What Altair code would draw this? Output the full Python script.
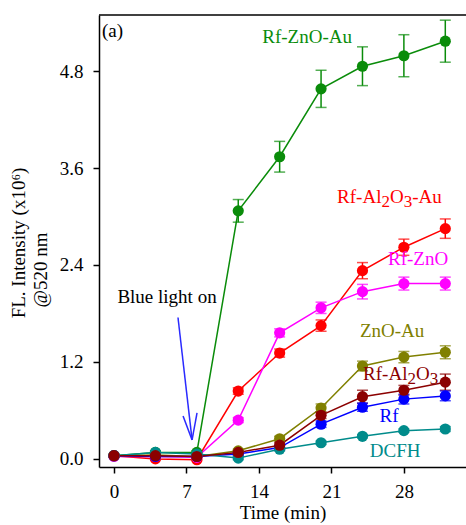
import altair as alt
import pandas as pd

FONT = "Liberation Serif"
FS = 19

time = [0, 4, 8, 12, 16, 20, 24, 28, 32]

series_names = ["Rf-ZnO-Au", "Rf-Al2O3-Au", "Rf-ZnO", "ZnO-Au", "Rf", "DCFH", "Rf-Al2O3"]
series_colors = ["#0a8c0a", "#ff0000", "#ff00ff", "#808000", "#0000ff", "#008b8b", "#8b0000"]

rf_zno_au = [0.04, 0.08, 0.08, 3.07, 3.74, 4.58, 4.86, 4.99, 5.17]
rf_zno_au_err = [0.02, 0.02, 0.02, 0.14, 0.19, 0.23, 0.24, 0.26, 0.26]
rf_al2o3_au = [0.04, 0.00, -0.01, 0.84, 1.31, 1.65, 2.33, 2.62, 2.85]
rf_al2o3_au_err = [0.01, 0.01, 0.01, 0.04, 0.05, 0.07, 0.10, 0.10, 0.12]
rf_zno = [0.03, 0.03, 0.02, 0.48, 1.56, 1.87, 2.07, 2.17, 2.17]
rf_zno_err = [0.01, 0.01, 0.01, 0.03, 0.05, 0.07, 0.09, 0.08, 0.08]
zno_au = [0.04, 0.05, 0.03, 0.10, 0.25, 0.63, 1.15, 1.26, 1.32]
zno_au_err = [0.01, 0.01, 0.01, 0.02, 0.03, 0.05, 0.06, 0.07, 0.08]
rf = [0.04, 0.03, 0.03, 0.06, 0.14, 0.43, 0.64, 0.74, 0.78]
rf_err = [0.01, 0.01, 0.01, 0.02, 0.03, 0.04, 0.05, 0.06, 0.06]
dcfh = [0.04, 0.08, 0.06, 0.01, 0.12, 0.20, 0.28, 0.35, 0.37]
dcfh_err = [0.01, 0.01, 0.01, 0.02, 0.02, 0.02, 0.02, 0.02, 0.03]
rf_al2o3 = [0.04, 0.04, 0.03, 0.08, 0.17, 0.54, 0.77, 0.85, 0.95]
rf_al2o3_err = [0.01, 0.01, 0.01, 0.02, 0.03, 0.04, 0.08, 0.06, 0.10]

series_values = [rf_zno_au, rf_al2o3_au, rf_zno, zno_au, rf, dcfh, rf_al2o3]
series_errors = [rf_zno_au_err, rf_al2o3_au_err, rf_zno_err, zno_au_err, rf_err, dcfh_err, rf_al2o3_err]

x_ticks = [0, 7, 14, 21, 28]
y_ticks = [0.0, 1.2, 2.4, 3.6, 4.8]

# simple (centered) labels
label_texts = ["Rf-ZnO-Au", "Rf-ZnO", "ZnO-Au", "Rf", "DCFH", "Blue light on"]
label_x = [18.65, 29.37, 26.86, 26.57, 27.15, 5.12]
label_y = [5.15, 2.40, 1.51, 0.46, 0.025, 1.93]
label_colors = ["#0a8c0a", "#ff00ff", "#808000", "#0000ff", "#008b8b", "#000000"]

# labels with subscripts: (pieces, is_subscript), left start, baseline
chem_pieces = [
    [("Rf-Al", False), ("2", True), ("O", False), ("3", True), ("-Au", False)],
    [("Rf-Al", False), ("2", True), ("O", False), ("3", True)],
]
chem_start_x = [21.55, 24.06]
chem_y = [3.17, 0.98]
chem_colors = ["#ff0000", "#8b0000"]

arrow_x = [6.18, 6.67, 8.02]
arrow_y = [1.75, 0.53, 0.57]
arrow_tip_x = [7.54, 7.54, 7.54]
arrow_tip_y = [0.235, 0.235, 0.235]

y_title_lines = ["FL. Intensity (x10⁶)", "@520 nm"]

rows = []
for name, vals, errs in zip(series_names, series_values, series_errors):
    for t, v, e in zip(time, vals, errs):
        rows.append({"series": name, "t": t, "v": v, "lo": v - e, "hi": v + e})
df = pd.DataFrame(rows)

labels_df = pd.DataFrame({"text": label_texts, "x": label_x, "y": label_y, "c": label_colors})
arrow_df = pd.DataFrame({"x": arrow_x, "y": arrow_y, "x2": arrow_tip_x, "y2": arrow_tip_y})

W, H = 367, 452
XDOM = [-1.45, 34.0]
YDOM = [-0.1, 5.494]
px_per_x = W / (XDOM[1] - XDOM[0])
px_per_y = H / (YDOM[1] - YDOM[0])

# Times-metric advance widths (em) for the glyphs used in subscripted labels
adv = {"R": 0.667, "f": 0.333, "-": 0.333, "A": 0.722, "l": 0.278, "O": 0.722,
       "u": 0.5, "2": 0.5, "3": 0.5}
SUB_FS = 17
SUB_DROP = 4
chem_rows = []
for pieces, sx, by, col in zip(chem_pieces, chem_start_x, chem_y, chem_colors):
    off = 0.0
    for txt, sub in pieces:
        size = SUB_FS if sub else FS
        chem_rows.append({"text": txt, "x": sx + off / px_per_x,
                          "y": by - (SUB_DROP / px_per_y if sub else 0.0),
                          "c": col, "s": size})
        off += sum(adv[ch] for ch in txt) * size
chem_df = pd.DataFrame(chem_rows)

xscale = alt.Scale(domain=XDOM, nice=False, zero=False)
yscale = alt.Scale(domain=YDOM, nice=False, zero=False)
color = alt.Color("series:N", scale=alt.Scale(domain=series_names, range=series_colors), legend=None)

axis_common = dict(
    grid=False, tickSize=6, labelFontSize=FS, titleFontSize=FS, labelFont=FONT, titleFont=FONT,
    titleFontWeight="normal", domainColor="black", tickColor="black", labelColor="black",
    titleColor="black", domainWidth=1.5, tickWidth=1.5,
)
xaxis = alt.Axis(values=x_ticks, title="Time (min)", labelPadding=9, titlePadding=2, **axis_common)
yaxis = alt.Axis(values=y_ticks, format=".1f", title=None, labelPadding=10, **axis_common)

base = alt.Chart(df)
X = alt.X("t:Q", scale=xscale, axis=xaxis)
Y = alt.Y("v:Q", scale=yscale, axis=yaxis)

lines = base.mark_line(strokeWidth=1.5).encode(x=X, y=Y, color=color)
bars = base.mark_rule(strokeWidth=1.5).encode(
    x="t:Q", y=alt.Y("lo:Q", scale=yscale), y2="hi:Q", color=color)
caps_lo = base.mark_tick(orient="horizontal", size=11, thickness=1.5).encode(
    x="t:Q", y=alt.Y("lo:Q", scale=yscale), color=color)
caps_hi = base.mark_tick(orient="horizontal", size=11, thickness=1.5).encode(
    x="t:Q", y=alt.Y("hi:Q", scale=yscale), color=color)
points = base.mark_circle(size=125, opacity=1).encode(x="t:Q", y="v:Q", color=color)

labels = alt.Chart(labels_df).mark_text(font=FONT, fontSize=FS, align="center", baseline="alphabetic").encode(
    x=alt.X("x:Q", scale=xscale), y=alt.Y("y:Q", scale=yscale),
    text="text:N", color=alt.Color("c:N", scale=None))

chem = alt.Chart(chem_df).mark_text(font=FONT, align="left", baseline="alphabetic").encode(
    x=alt.X("x:Q", scale=xscale), y=alt.Y("y:Q", scale=yscale),
    text="text:N", color=alt.Color("c:N", scale=None), size=alt.Size("s:Q", scale=None))

panel = alt.Chart(pd.DataFrame({"text": ["(a)"], "x": [-1.16], "y": [5.22]})).mark_text(
    font=FONT, fontSize=FS, align="left", baseline="alphabetic", color="black").encode(
    x=alt.X("x:Q", scale=xscale), y=alt.Y("y:Q", scale=yscale), text="text:N")

arrow = alt.Chart(arrow_df).mark_rule(color="#2a2aff", strokeWidth=1.5).encode(
    x=alt.X("x:Q", scale=xscale), y=alt.Y("y:Q", scale=yscale), x2="x2:Q", y2="y2:Q")

ytitle1 = alt.Chart(pd.DataFrame({"t": [y_title_lines[0]]})).mark_text(
    font=FONT, fontSize=FS, angle=270, align="center", baseline="alphabetic", color="black").encode(
    x=alt.value(-74), y=alt.value(228), text="t:N")
ytitle2 = alt.Chart(pd.DataFrame({"t": [y_title_lines[1]]})).mark_text(
    font=FONT, fontSize=FS, angle=270, align="center", baseline="alphabetic", color="black").encode(
    x=alt.value(-52), y=alt.value(255), text="t:N")

top_border = alt.Chart(pd.DataFrame({"a": [0]})).mark_rule(color="black", strokeWidth=1.5).encode(
    x=alt.value(0), x2=alt.value(W), y=alt.value(0))

chart = alt.layer(
    lines, bars, caps_lo, caps_hi, points, labels, chem, panel, arrow, ytitle1, ytitle2, top_border
).properties(
    width=W, height=H,
    autosize=alt.AutoSizeParams(type="none"),
    padding={"left": 99, "top": 15, "right": 0, "bottom": 58},
).configure_view(stroke=None)

chart.save("out.html", embed_options={"renderer": "svg", "actions": False})
